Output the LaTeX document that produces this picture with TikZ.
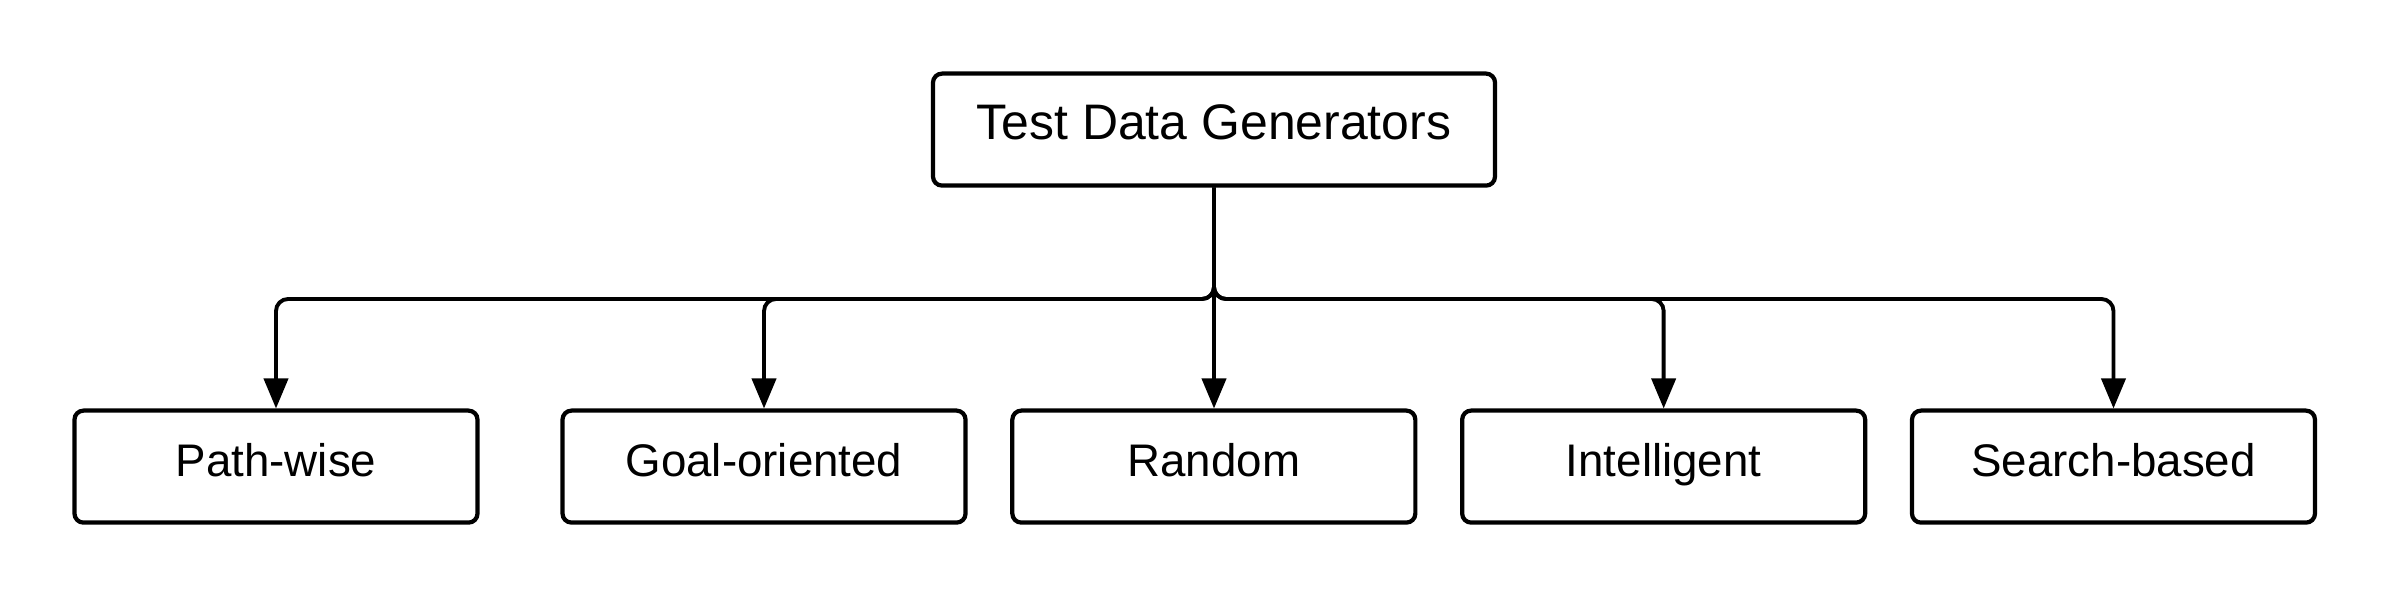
\documentclass[tikz,border=0pt]{standalone}
\usepackage{fontspec}
\setmainfont{Liberation Sans}
\usepackage{tikz}
\usetikzlibrary{arrows.meta,positioning,calc}

\begin{document}
\begin{tikzpicture}[
      root/.style={draw,rounded corners=0.09cm,line width=1.2pt,minimum width=5.62cm,minimum height=1.12cm,
        text height=0.716em,text depth=1.8pt,font=\fontsize{14.2}{17}\selectfont},
      leaf/.style={draw,rounded corners=0.09cm,line width=1.2pt,minimum width=4.03cm,minimum height=1.12cm,
        text height=0.716em,text depth=1.8pt,font=\fontsize{13}{16}\selectfont},
      link/.style={line width=1.1pt,rounded corners=0.12cm},
      >={Triangle[width=0.24cm,length=0.3cm]}
    ]
    \useasboundingbox (0,0) rectangle (23.91,6);

    % root
    \node[root] (tdg) at (12.14,4.704) {Test Data Generators};

    % leaves
    \node[leaf] (pw) at (2.76,1.334) {Path-wise};
    \node[leaf,right=0.808cm of pw] (goal) {Goal-oriented};
    \node[leaf,right=0.426cm of goal] (rnd) {Random};
    \node[leaf,right=0.426cm of rnd] (intl) {Intelligent};
    \node[leaf,right=0.426cm of intl] (search) {Search-based};

    % the bus
    \coordinate (bus) at (0,3.01);

    % the arrows
    \draw[link,->] (tdg.south) -- (tdg.south |- bus) -| (pw.north);
    \draw[link,->] (tdg.south) -- (tdg.south |- bus) -| (goal.north);
    \draw[link,->] (tdg.south) -- (tdg.south |- rnd.north);
    \draw[link,->] (tdg.south) -- (tdg.south |- bus) -| (intl.north);
    \draw[link,->] (tdg.south) -- (tdg.south |- bus) -| (search.north);
\end{tikzpicture}
\end{document}
